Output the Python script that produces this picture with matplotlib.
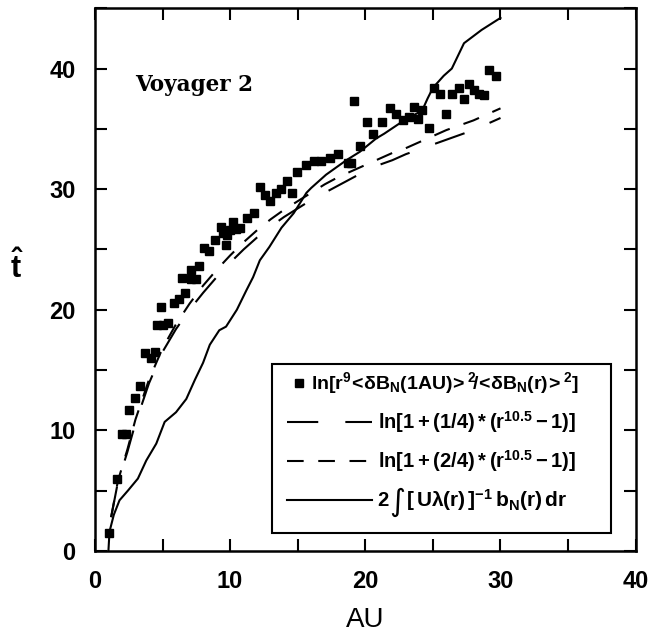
import matplotlib
matplotlib.use("Agg")
import matplotlib.pyplot as plt
from matplotlib.ticker import MultipleLocator
from matplotlib.patches import Rectangle

plt.rcParams['font.family'] = ['Liberation Sans', 'DejaVu Sans']
plt.rcParams['mathtext.fontset'] = 'custom'
plt.rcParams['mathtext.rm'] = 'Liberation Sans:bold'
plt.rcParams['mathtext.it'] = 'Liberation Sans:bold'
plt.rcParams['mathtext.bf'] = 'Liberation Sans:bold'

# Voyager 2 data points
obs_r = [1.07, 1.60, 2.0, 2.3, 2.55, 3.0, 3.37, 3.74, 4.14, 4.48, 4.63, 4.9, 5.06,
         5.43, 5.83, 6.2, 6.44, 6.69, 7.12, 7.45, 7.12, 7.73, 8.07, 8.47, 8.9,
         9.36, 9.5, 9.66, 9.75, 9.97, 10.2, 10.4, 10.7, 11.26, 11.8, 12.18, 12.6,
         12.98, 13.4, 13.8, 14.2, 14.57, 14.97, 15.6, 16.2, 16.7, 17.4, 18.0, 18.7,
         18.96, 19.2, 19.6, 20.1, 20.55, 21.2, 21.8, 22.3, 22.76, 23.25, 23.6, 23.9,
         24.2, 24.7, 25.1, 25.55, 26.0, 26.4, 26.9, 27.3, 27.7, 28.07, 28.4, 28.8,
         29.14, 29.7]
obs_t = [1.5, 6.0, 9.7, 9.7, 11.7, 12.65, 13.66, 16.4, 16.0, 16.5, 18.7, 20.2, 18.7,
         18.9, 20.6, 20.9, 22.6, 21.4, 22.55, 22.55, 23.3, 23.6, 25.1, 24.9, 25.8,
         26.9, 26.4, 25.4, 26.2, 26.6, 27.3, 26.7, 26.8, 27.6, 28.0, 30.2, 29.5,
         29.0, 29.7, 30.0, 30.7, 29.7, 31.4, 32.0, 32.35, 32.35, 32.6, 32.95, 32.2,
         32.2, 37.3, 33.6, 35.6, 34.6, 35.6, 36.7, 36.2, 35.7, 35.97, 36.8, 35.8,
         36.6, 35.1, 38.4, 37.9, 36.2, 37.9, 38.4, 37.5, 38.7, 38.25, 37.9, 37.8,
         39.9, 39.4]

# model curves
model_r = [1.2, 1.7, 2.4, 3, 4, 5, 6, 7, 8, 9, 10, 11, 12, 13, 14, 15, 16, 17, 18,
           19, 20, 21, 22, 23, 24, 25, 26, 27, 28, 29, 30]
t_quarter = [2.8, 5.7, 8.2, 10.6, 13.9, 16.5, 18.4, 20.0, 21.4, 22.7, 23.9, 25.0,
             26.0, 26.9, 27.7, 28.4, 29.1, 29.7, 30.3, 30.9, 31.5, 32.0, 32.4, 32.9,
             33.3, 33.7, 34.1, 34.5, 34.9, 35.4, 35.9]
t_half = [2.8, 5.8, 8.4, 10.9, 14.2, 16.8, 18.8, 20.5, 22.0, 23.3, 24.5, 25.6, 26.6,
          27.5, 28.3, 29.0, 29.7, 30.4, 31.0, 31.5, 32.0, 32.5, 33.0, 33.4, 33.9,
          34.4, 34.9, 35.3, 35.7, 36.2, 36.7]

int_r = [1.0, 1.08, 1.4, 1.82, 2.44, 3.18, 3.8, 4.54, 5.16, 6.0, 6.76, 7.4, 8.0, 8.5,
         9.2, 9.7, 10.5, 11.2, 11.7, 12.2, 12.9, 13.8, 14.7, 15.65, 16.0, 17.1, 18.6,
         19.6, 20.8, 21.4, 23.0, 24.2, 24.6, 25.0, 25.8, 26.4, 27.3, 28.6, 30.0]
int_t = [0.0, 1.6, 3.0, 4.2, 5.0, 6.0, 7.5, 8.9, 10.7, 11.5, 12.6, 14.2, 15.6, 17.1,
         18.3, 18.6, 20.0, 21.6, 22.7, 24.1, 25.2, 26.8, 28.0, 29.7, 30.1, 31.2, 32.4,
         33.1, 34.2, 34.6, 35.8, 36.5, 37.5, 38.4, 39.4, 40.0, 42.1, 43.2, 44.2]

labels = [r'$\mathrm{ln[r^9\!<\!\delta B_N(1AU)\!>^2\!/\!<\!\delta B_N(r)\!>^2]}$',
          r'$\mathrm{ln[1+(1/4)*(r^{10.5}-1)]}$',
          r'$\mathrm{ln[1+(2/4)*(r^{10.5}-1)]}$',
          r'$\mathrm{[\,U\lambda(r)\,]^{-1}\,b_N(r)\,dr}$']
label_size = [14, 14.5, 14.5, 15]

long_dash = (0, (15, 13))
short_dash = (0, (8, 7))

fig = plt.figure(figsize=(6.5, 6.34), dpi=100)
ax = fig.add_axes([0.146, 0.131, 0.832, 0.856])

ax.plot(obs_r, obs_t, 's', color='black', markersize=5.5, zorder=3)
ax.plot(model_r, t_quarter, color='black', lw=1.5, linestyle=long_dash)
ax.plot(model_r, t_half, color='black', lw=1.5, linestyle=short_dash)
ax.plot(int_r, int_t, color='black', lw=1.5)

ax.set_xlim(0, 40)
ax.set_ylim(0, 45)
ax.xaxis.set_major_locator(MultipleLocator(10))
ax.yaxis.set_major_locator(MultipleLocator(10))
ax.xaxis.set_minor_locator(MultipleLocator(5))
ax.yaxis.set_minor_locator(MultipleLocator(5))
ax.tick_params(which='both', direction='in', top=True, right=True,
               length=8.5, width=1.5)
ax.tick_params(which='major', labelsize=17, pad=14)
for lab in ax.get_xticklabels() + ax.get_yticklabels():
    lab.set_fontweight('bold')
for sp in ax.spines.values():
    sp.set_linewidth(1.8)

ax.set_xlabel('AU', fontsize=20)
ax.xaxis.set_label_coords(0.499, -0.104)
ax.set_ylabel(r'$\hat{\mathrm{t}}$', fontsize=22, rotation=0)
ax.yaxis.set_label_coords(-0.145, 0.49)

ax.text(2.95, 38.6, 'Voyager 2', family='DejaVu Serif', fontweight='bold',
        fontsize=15.5, va='center')

# hand-built legend box
box = Rectangle((0.328, 0.033), 0.627, 0.311, transform=ax.transAxes,
                facecolor='white', edgecolor='black', lw=1.5, zorder=5)
ax.add_patch(box)
rows = [0.309, 0.238, 0.166, 0.093]
ax.plot([0.377], [rows[0]], 's', color='black', markersize=5.5,
        transform=ax.transAxes, zorder=6, clip_on=False)
ax.plot([0.356, 0.512], [rows[1], rows[1]], color='black', lw=1.5,
        linestyle=long_dash, transform=ax.transAxes, zorder=6)
ax.plot([0.356, 0.512], [rows[2], rows[2]], color='black', lw=1.5,
        linestyle=short_dash, transform=ax.transAxes, zorder=6)
ax.plot([0.356, 0.512], [rows[3], rows[3]], color='black', lw=1.5,
        transform=ax.transAxes, zorder=6)
text_x = [0.400, 0.523, 0.523, 0.576]
for x, y, lab, fs in zip(text_x, rows, labels, label_size):
    ax.text(x, y, lab, transform=ax.transAxes, ha='left', va='center',
            fontsize=fs, zorder=7)
ax.text(0.523, rows[3], '2', transform=ax.transAxes, ha='left', va='center',
        fontsize=14.5, fontweight='bold', zorder=7)
ax.text(0.559, rows[3] - 0.004, '\u222b', family='DejaVu Sans', transform=ax.transAxes,
        ha='center', va='center', fontsize=22, zorder=7)

fig.savefig('out.png', dpi=100)
